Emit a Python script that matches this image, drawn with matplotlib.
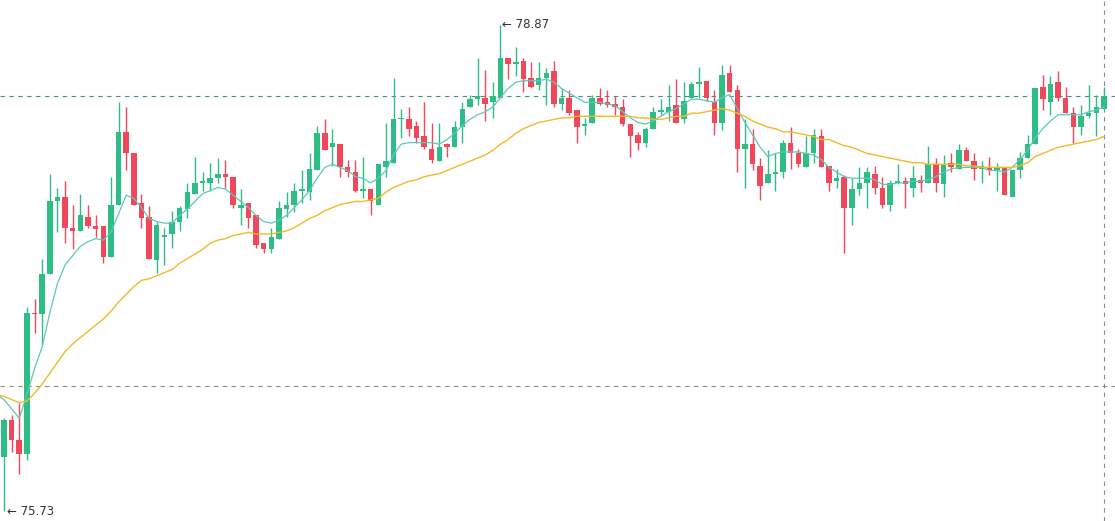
import matplotlib
matplotlib.use("Agg")
import matplotlib.pyplot as plt
import numpy as np

# one candle per bar, oldest first
opens = [76.08, 76.32, 76.19, 76.10, 77.01, 77.00, 77.26, 77.73, 77.76, 77.56,
         77.54, 77.63, 77.57, 77.57, 77.37, 77.71, 78.18, 78.04, 77.72, 77.63,
         77.35, 77.50, 77.52, 77.60, 77.68, 77.78, 77.85, 77.85, 77.88, 77.91,
         77.89, 77.69, 77.72, 77.64, 77.46, 77.42, 77.49, 77.68, 77.71, 77.80,
         77.79, 77.93, 78.17, 78.08, 78.10, 77.95, 77.92, 77.80, 77.81, 77.71,
         77.95, 77.98, 78.26, 78.26, 78.22, 78.15, 78.07, 77.99, 78.10, 78.08,
         78.21, 78.34, 78.39, 78.40, 78.37, 78.40, 78.66, 78.62, 78.64, 78.53,
         78.48, 78.53, 78.57, 78.36, 78.40, 78.32, 78.22, 78.24, 78.40, 78.37,
         78.36, 78.34, 78.23, 78.16, 78.11, 78.20, 78.31, 78.31, 78.35, 78.26,
         78.40, 78.49, 78.51, 78.37, 78.24, 78.56, 78.45, 78.07, 78.10, 77.96,
         77.85, 77.91, 77.92, 78.11, 78.04, 77.95, 78.04, 78.15, 77.96, 77.86,
         77.89, 77.69, 77.81, 77.85, 77.91, 77.82, 77.71, 77.85, 77.86, 77.82,
         77.87, 77.85, 77.97, 77.84, 77.98, 77.94, 78.06, 77.99, 77.94, 77.95,
         77.93, 77.95, 77.76, 77.93, 78.01, 78.10, 78.47, 78.37, 78.50, 78.40,
         78.30, 78.21, 78.28, 78.30, 78.33]
highs = [76.33, 76.35, 76.43, 77.05, 77.10, 77.36, 77.91, 77.82, 77.86, 77.71,
         77.78, 77.71, 77.64, 77.57, 77.89, 78.37, 78.34, 78.04, 77.78, 77.70,
         77.60, 77.56, 77.67, 77.70, 77.85, 78.02, 77.92, 77.98, 78.01, 78.00,
         77.89, 77.81, 77.72, 77.64, 77.46, 77.56, 77.73, 77.79, 77.85, 77.93,
         78.04, 78.22, 78.26, 78.20, 78.10, 78.00, 78.00, 78.02, 77.81, 77.97,
         78.24, 78.53, 78.33, 78.34, 78.25, 78.37, 78.24, 78.24, 78.11, 78.25,
         78.37, 78.42, 78.66, 78.58, 78.50, 78.87, 78.66, 78.73, 78.66, 78.63,
         78.63, 78.59, 78.64, 78.46, 78.45, 78.32, 78.27, 78.42, 78.46, 78.45,
         78.41, 78.39, 78.23, 78.18, 78.21, 78.34, 78.39, 78.48, 78.52, 78.50,
         78.50, 78.60, 78.51, 78.45, 78.61, 78.61, 78.48, 78.26, 78.20, 78.01,
         78.06, 78.04, 78.13, 78.21, 78.07, 78.15, 78.20, 78.20, 77.96, 77.94,
         77.90, 77.88, 77.95, 77.95, 77.96, 77.89, 77.87, 77.97, 77.89, 77.96,
         77.90, 78.09, 78.01, 78.03, 78.04, 78.10, 78.08, 78.04, 77.99, 78.02,
         77.98, 77.95, 77.93, 78.05, 78.16, 78.46, 78.55, 78.54, 78.57, 78.47,
         78.34, 78.35, 78.48, 78.42, 78.47]
lows = [75.73, 76.11, 75.97, 76.06, 76.88, 76.80, 77.26, 77.53, 77.46, 77.42,
        77.54, 77.56, 77.50, 77.33, 77.37, 77.71, 77.93, 77.71, 77.56, 77.36,
        77.27, 77.32, 77.43, 77.54, 77.62, 77.78, 77.80, 77.80, 77.85, 77.82,
        77.69, 77.58, 77.56, 77.43, 77.40, 77.40, 77.49, 77.63, 77.66, 77.72,
        77.74, 77.93, 78.06, 77.96, 77.89, 77.89, 77.79, 77.75, 77.64, 77.71,
        77.89, 77.98, 78.14, 78.15, 78.11, 78.07, 77.98, 77.99, 78.02, 78.08,
        78.11, 78.34, 78.35, 78.25, 78.27, 78.40, 78.52, 78.54, 78.44, 78.46,
        78.45, 78.35, 78.34, 78.32, 78.29, 78.11, 78.16, 78.24, 78.35, 78.34,
        78.29, 78.22, 78.02, 78.06, 78.08, 78.20, 78.29, 78.25, 78.24, 78.24,
        78.40, 78.40, 78.38, 78.16, 78.19, 78.44, 77.92, 77.82, 77.93, 77.74,
        77.85, 77.80, 77.88, 77.94, 77.95, 77.95, 77.98, 77.95, 77.80, 77.82,
        77.40, 77.58, 77.77, 77.69, 77.78, 77.69, 77.67, 77.84, 77.69, 77.76,
        77.79, 77.85, 77.79, 77.76, 77.92, 77.94, 77.99, 77.87, 77.85, 77.90,
        77.80, 77.77, 77.76, 77.88, 78.01, 78.10, 78.32, 78.29, 78.38, 78.30,
        78.11, 78.16, 78.27, 78.15, 78.33]
closes = [76.32, 76.19, 76.10, 77.01, 77.00, 77.26, 77.73, 77.76, 77.56, 77.54,
          77.64, 77.57, 77.55, 77.37, 77.71, 78.18, 78.04, 77.71, 77.62, 77.36,
          77.58, 77.51, 77.60, 77.69, 77.79, 77.85, 77.86, 77.88, 77.91, 77.89,
          77.71, 77.71, 77.62, 77.45, 77.42, 77.50, 77.69, 77.71, 77.80, 77.81,
          77.94, 78.17, 78.06, 78.11, 77.95, 77.92, 77.80, 77.81, 77.73, 77.97,
          77.99, 78.26, 78.27, 78.20, 78.14, 78.08, 78.00, 78.08, 78.08, 78.21,
          78.33, 78.39, 78.41, 78.36, 78.41, 78.66, 78.62, 78.63, 78.52, 78.47,
          78.53, 78.56, 78.36, 78.40, 78.30, 78.21, 78.23, 78.40, 78.36, 78.35,
          78.34, 78.23, 78.15, 78.11, 78.20, 78.31, 78.32, 78.34, 78.24, 78.38,
          78.49, 78.50, 78.40, 78.24, 78.55, 78.44, 78.07, 78.10, 77.97, 77.83,
          77.91, 77.92, 78.11, 78.04, 77.97, 78.04, 78.16, 77.95, 77.85, 77.88,
          77.69, 77.81, 77.85, 77.92, 77.82, 77.71, 77.85, 77.86, 77.84, 77.88,
          77.85, 77.97, 77.85, 77.97, 77.95, 78.06, 77.99, 77.94, 77.96, 77.93,
          77.95, 77.77, 77.93, 78.01, 78.10, 78.46, 78.39, 78.49, 78.40, 78.30,
          78.21, 78.28, 78.30, 78.34, 78.41]

# the two moving averages as drawn, first value belongs to the bar before the first one
ma_fast = [76.48, 76.45, 76.39, 76.33, 76.48, 76.65, 76.79, 77.01, 77.20, 77.32,
           77.38, 77.44, 77.47, 77.49, 77.48, 77.53, 77.65, 77.77, 77.75, 77.69,
           77.62, 77.60, 77.59, 77.59, 77.64, 77.68, 77.73, 77.78, 77.80, 77.82,
           77.81, 77.77, 77.73, 77.69, 77.64, 77.60, 77.59, 77.61, 77.64, 77.69,
           77.74, 77.80, 77.88, 77.95, 77.97, 77.95, 77.93, 77.89, 77.88, 77.85,
           77.88, 77.93, 78.03, 78.10, 78.11, 78.11, 78.11, 78.11, 78.10, 78.13,
           78.17, 78.22, 78.26, 78.29, 78.31, 78.34, 78.40, 78.46, 78.50, 78.51,
           78.51, 78.51, 78.52, 78.50, 78.46, 78.43, 78.40, 78.37, 78.37, 78.37,
           78.36, 78.35, 78.31, 78.27, 78.24, 78.23, 78.25, 78.28, 78.31, 78.33,
           78.36, 78.39, 78.39, 78.38, 78.37, 78.40, 78.42, 78.33, 78.24, 78.16,
           78.08, 78.02, 78.04, 78.05, 78.05, 78.05, 78.04, 78.03, 78.00, 77.95,
           77.92, 77.89, 77.88, 77.88, 77.88, 77.87, 77.84, 77.84, 77.85, 77.85,
           77.86, 77.86, 77.87, 77.89, 77.92, 77.94, 77.95, 77.95, 77.95, 77.95,
           77.93, 77.93, 77.92, 77.95, 78.00, 78.06, 78.14, 78.20, 78.25, 78.29,
           78.29, 78.29, 78.29, 78.31, 78.32, 78.34]
ma_slow = [76.48, 76.47, 76.45, 76.43, 76.44, 76.49, 76.55, 76.62, 76.69, 76.76,
           76.81, 76.85, 76.89, 76.93, 76.97, 77.02, 77.08, 77.13, 77.18, 77.22,
           77.23, 77.25, 77.27, 77.29, 77.33, 77.36, 77.39, 77.42, 77.46, 77.48,
           77.49, 77.51, 77.52, 77.53, 77.52, 77.52, 77.52, 77.53, 77.54, 77.56,
           77.59, 77.62, 77.64, 77.67, 77.69, 77.71, 77.72, 77.73, 77.73, 77.74,
           77.75, 77.79, 77.82, 77.84, 77.86, 77.87, 77.89, 77.90, 77.91, 77.93,
           77.95, 77.97, 77.99, 78.01, 78.03, 78.06, 78.10, 78.13, 78.17, 78.20,
           78.22, 78.24, 78.25, 78.26, 78.27, 78.27, 78.28, 78.28, 78.28, 78.28,
           78.28, 78.28, 78.28, 78.28, 78.27, 78.27, 78.26, 78.26, 78.27, 78.28,
           78.28, 78.30, 78.30, 78.31, 78.32, 78.33, 78.32, 78.30, 78.28, 78.25,
           78.23, 78.21, 78.20, 78.18, 78.18, 78.17, 78.16, 78.15, 78.13, 78.13,
           78.11, 78.09, 78.08, 78.06, 78.04, 78.03, 78.02, 78.01, 78.00, 77.99,
           77.98, 77.98, 77.97, 77.97, 77.97, 77.97, 77.97, 77.96, 77.96, 77.95,
           77.95, 77.95, 77.95, 77.95, 77.96, 77.98, 78.02, 78.04, 78.06, 78.08,
           78.09, 78.10, 78.11, 78.12, 78.13, 78.15]

crosshair_price = 76.54   # mouse crosshair, horizontal part
crosshair_bar = 144       # mouse crosshair, vertical part

UP = "#2ebd85"
DOWN = "#f0475b"

o = np.array(opens)
h = np.array(highs)
l = np.array(lows)
c = np.array(closes)
x = np.arange(len(o))
up = c >= o
col = np.where(up, UP, DOWN)

fig = plt.figure(figsize=(11.15, 5.21), dpi=100)
ax = fig.add_axes([0, 0, 1, 1])

ax.vlines(x, l, h, colors=col, lw=1.0, zorder=2)
body_lo = np.minimum(o, c)
body_h = np.maximum(np.abs(c - o), 0.007)
ax.bar(x, body_h, bottom=body_lo, width=0.72, color=col, lw=0, zorder=3)

mx = np.arange(-1, -1 + len(ma_fast))
ax.plot(mx, ma_fast, color="#5cc9b8", lw=0.9, zorder=4)
mx = np.arange(-1, -1 + len(ma_slow))
ax.plot(mx, ma_slow, color="#f2b92a", lw=1.0, zorder=4)

# last price line and crosshair
ax.axhline(c[-1], color="#4e8c7e", lw=0.8, ls=(0, (4, 4)), zorder=1)
ax.axhline(crosshair_price, color="#8a8a8a", lw=0.8, ls=(0, (4, 4)), zorder=1)
ax.axvline(crosshair_bar, color="#8a8a8a", lw=0.8, ls=(0, (4, 4)), zorder=1)

# extremes of the visible range
i_hi = int(np.argmax(h))
i_lo = int(np.argmin(l))
ax.text(i_hi + 0.25, h[i_hi], f"\u2190 {h[i_hi]:.2f}", ha="left", va="center",
        fontsize=8.5, color="#333333", zorder=5)
ax.text(i_lo + 0.35, l[i_lo], f"\u2190 {l[i_lo]:.2f}", ha="left", va="center",
        fontsize=8.5, color="#333333", zorder=5)

px_per_unit = 154.8
ax.set_ylim(l.min() - 10 / px_per_unit, h.max() + 25 / px_per_unit)
ax.set_xlim(-0.52, 145.45)
ax.axis("off")

fig.savefig("out.png", dpi=100, facecolor="white")
